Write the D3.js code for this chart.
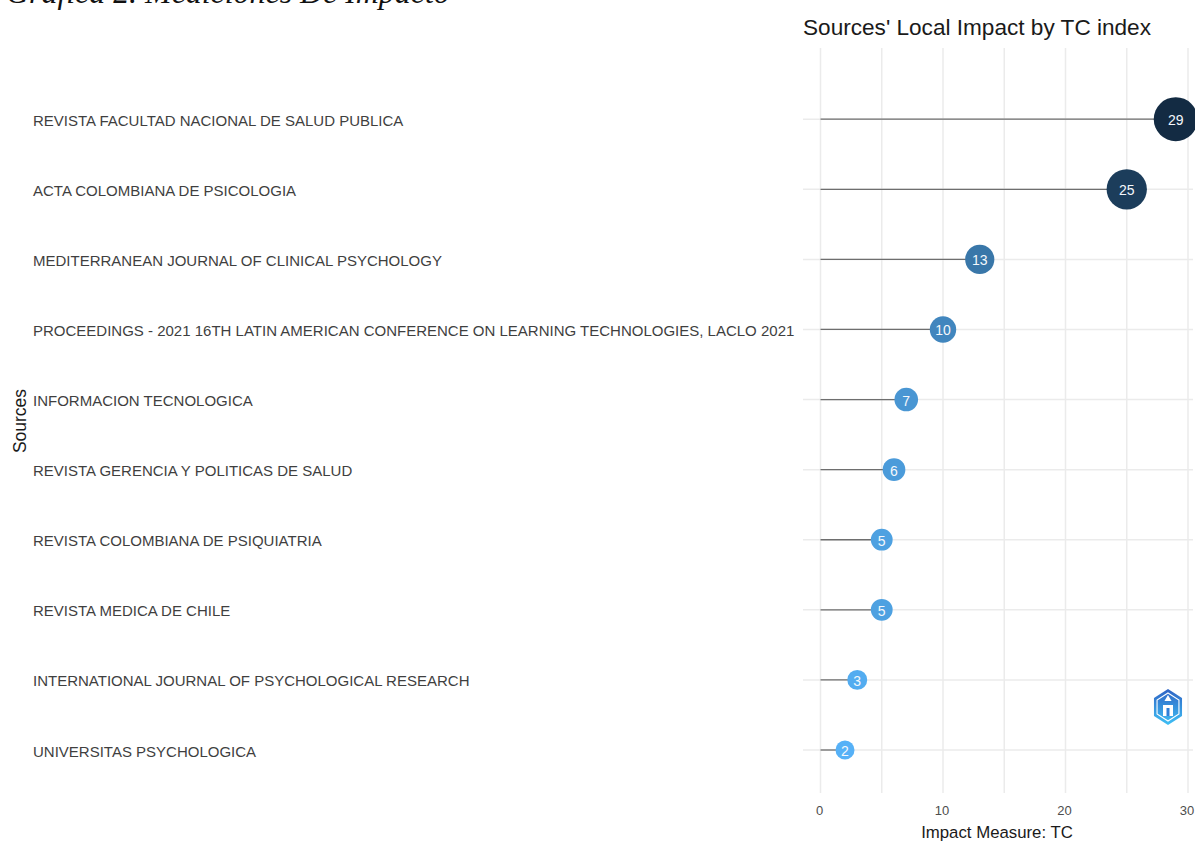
<!DOCTYPE html>
<html>
<head>
<meta charset="utf-8">
<script src="https://cdn.jsdelivr.net/npm/d3@7"></script>
<style>
  html, body { margin: 0; padding: 0; background: #fff; overflow: hidden; }
  svg { display: block; }
  text { font-family: "Liberation Sans", Arial, sans-serif; }
</style>
</head>
<body>
<svg id="chart"></svg>
<script>
const sources = [
  "REVISTA FACULTAD NACIONAL DE SALUD PUBLICA",
  "ACTA COLOMBIANA DE PSICOLOGIA",
  "MEDITERRANEAN JOURNAL OF CLINICAL PSYCHOLOGY",
  "PROCEEDINGS - 2021 16TH LATIN AMERICAN CONFERENCE ON LEARNING TECHNOLOGIES, LACLO 2021",
  "INFORMACION TECNOLOGICA",
  "REVISTA GERENCIA Y POLITICAS DE SALUD",
  "REVISTA COLOMBIANA DE PSIQUIATRIA",
  "REVISTA MEDICA DE CHILE",
  "INTERNATIONAL JOURNAL OF PSYCHOLOGICAL RESEARCH",
  "UNIVERSITAS PSYCHOLOGICA"
];
const tcValues = [29, 25, 13, 10, 7, 6, 5, 5, 3, 2];
const xTicks = [0, 10, 20, 30];
const xGrid = [0, 5, 10, 15, 20, 25, 30];

const width = 1195, height = 841;
const panel = { left: 803, right: 1193, top: 48, bottom: 793 };

const svg = d3.select("#chart").attr("width", width).attr("height", height);

const x = d3.scaleLinear().domain([0, 30]).range([820.5, 1188]);
const y = d3.scalePoint().domain(sources).range([119.2, 750]);
const color = d3.scaleLinear().domain([2, 29]).range(["#56B1F7", "#132B43"]).interpolate(d3.interpolateLab);
const radius = d3.scaleLinear().domain([2, 29]).range([9.5, 22]);

// grid
svg.append("g").selectAll("line").data(xGrid).enter().append("line")
  .attr("x1", d => x(d)).attr("x2", d => x(d))
  .attr("y1", panel.top).attr("y2", panel.bottom)
  .attr("stroke", "#ebebeb").attr("stroke-width", 1.5);
svg.append("g").selectAll("line").data(sources).enter().append("line")
  .attr("x1", panel.left).attr("x2", panel.right)
  .attr("y1", d => y(d)).attr("y2", d => y(d))
  .attr("stroke", "#ebebeb").attr("stroke-width", 1.5);

// lollipop stems
svg.append("g").selectAll("line").data(tcValues).enter().append("line")
  .attr("x1", x(0)).attr("x2", d => x(d))
  .attr("y1", (d, i) => y(sources[i])).attr("y2", (d, i) => y(sources[i]))
  .attr("stroke", "#6e6e6e").attr("stroke-width", 1.3);

svg.append("g").selectAll("circle").data(tcValues).enter().append("circle")
  .attr("cx", d => x(d))
  .attr("cy", (d, i) => y(sources[i]))
  .attr("r", d => radius(d))
  .attr("fill", d => color(d));

svg.append("g").selectAll("text").data(tcValues).enter().append("text")
  .attr("x", d => x(d))
  .attr("y", (d, i) => y(sources[i]) + 6)
  .attr("text-anchor", "middle")
  .attr("font-size", 14)
  .attr("fill", "#f4f8fc")
  .text(d => d);

// source labels
svg.append("g").selectAll("text").data(sources).enter().append("text")
  .attr("x", 33)
  .attr("y", d => y(d) + 6.5)
  .attr("font-size", 15)
  .attr("fill", "#3f3f3f")
  .text(d => d);

// x axis labels
svg.append("g").selectAll("text").data(xTicks).enter().append("text")
  .attr("x", d => x(d) - 1)
  .attr("y", 815)
  .attr("text-anchor", "middle")
  .attr("font-size", 13)
  .attr("fill", "#4d4d4d")
  .text(d => d);

svg.append("text")
  .attr("x", 997).attr("y", 838)
  .attr("text-anchor", "middle")
  .attr("font-size", 16.8)
  .attr("fill", "#1a1a1a")
  .text("Impact Measure: TC");

svg.append("text")
  .attr("transform", "translate(26,421) rotate(-90)")
  .attr("text-anchor", "middle")
  .attr("font-size", 17.5)
  .attr("fill", "#1a1a1a")
  .text("Sources");

svg.append("text")
  .attr("x", 803).attr("y", 35)
  .attr("font-size", 22.6)
  .attr("fill", "#1a1a1a")
  .text("Sources' Local Impact by TC index");

// document caption, cut off by the top of the picture
svg.append("text")
  .attr("x", 6).attr("y", 2.5)
  .attr("font-size", 31.9)
  .attr("font-style", "italic")
  .style("font-family", "'Liberation Serif', serif")
  .attr("fill", "#111")
  .text("Gráfica 2. Mediciones De Impacto");

// bibliometrix logo
const defs = svg.append("defs");
const grad = defs.append("linearGradient").attr("id", "logoGrad")
  .attr("x1", 0).attr("x2", 0).attr("y1", 0).attr("y2", 1);
grad.append("stop").attr("offset", "0%").attr("stop-color", "#2f63c4");
grad.append("stop").attr("offset", "100%").attr("stop-color", "#3fc0f5");

const logoX = 1168, logoY = 707, logoR = 18;
const hex = d3.range(6).map(i => {
  const a = Math.PI / 3 * i - Math.PI / 2;
  return [logoX + logoR * Math.cos(a) * 0.9, logoY + logoR * Math.sin(a)];
});
const logo = svg.append("g");
logo.append("path")
  .attr("d", d3.line()(hex) + "Z")
  .attr("fill", "url(#logoGrad)");
logo.append("path")
  .attr("d", d3.line()(hex.map(p => [logoX + (p[0] - logoX) * 0.78, logoY + (p[1] - logoY) * 0.78])) + "Z")
  .attr("fill", "none").attr("stroke", "#fff").attr("stroke-width", 1.1);
logo.append("path")
  .attr("d", d3.symbol(d3.symbolTriangle, 22)())
  .attr("transform", `translate(${logoX},${logoY - 8})`)
  .attr("fill", "#fff");
logo.append("rect")
  .attr("x", logoX - 5).attr("y", logoY - 2)
  .attr("width", 10).attr("height", 11)
  .attr("fill", "#fff");
logo.append("rect")
  .attr("x", logoX - 1.5).attr("y", logoY + 1)
  .attr("width", 3).attr("height", 8)
  .attr("fill", "#2f7fd8");
</script>
</body>
</html>
